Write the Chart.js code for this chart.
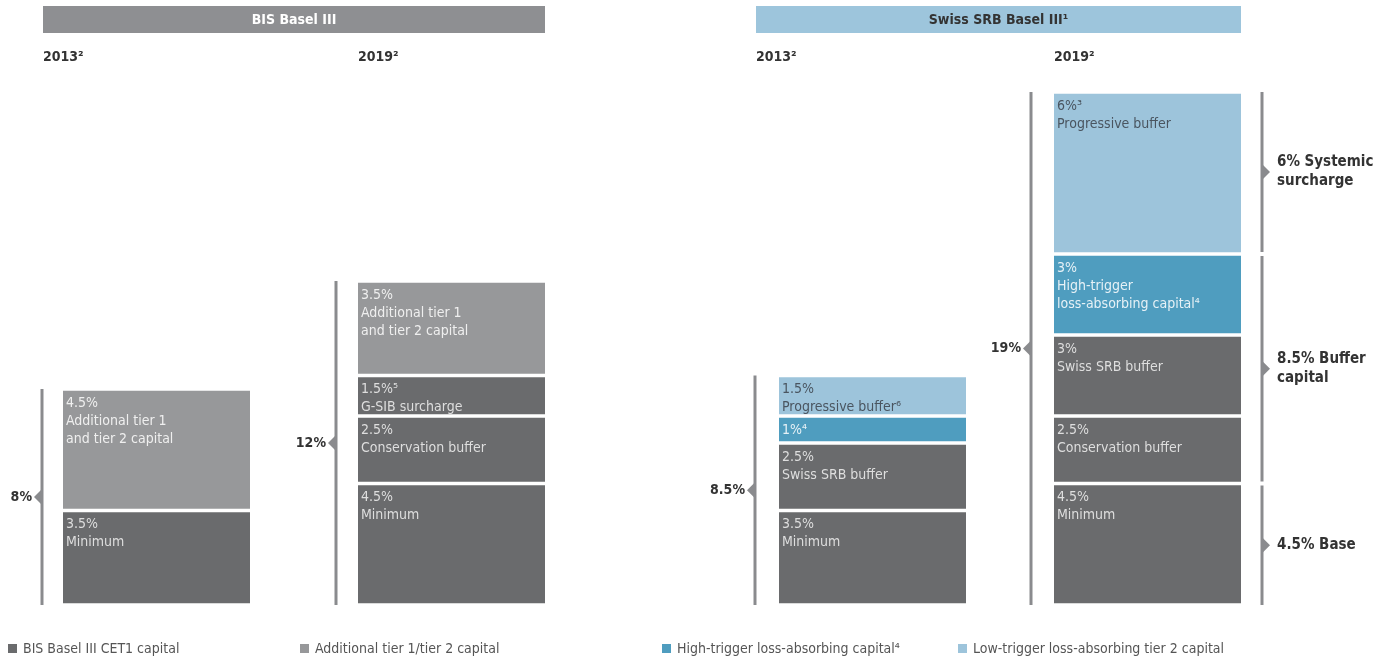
<!DOCTYPE html>
<html>
<head>
<meta charset="utf-8">
<script src="https://cdn.jsdelivr.net/npm/chart.js@4"></script>
<style>
  html, body { margin: 0; padding: 0; background: #fff; }
  #wrap { position: relative; width: 1383px; height: 661px; }
  #legend { position: absolute; left: 0; top: 640px; width: 1383px; height: 18px;
    font: 14px "Liberation Sans Narrow", "DejaVu Sans Condensed", sans-serif; color: #555; }
  #legend span.item { position: absolute; top: 0; white-space: nowrap; }
  #legend span.box { display: inline-block; width: 9px; height: 9px; margin-right: 6px; vertical-align: 0px; }
</style>
</head>
<body>
<div id="wrap">
  <canvas id="myChart" width="1383" height="661"></canvas>
  <div id="legend"></div>
</div>
<script>
// data
const categories = ["BIS Basel III 2013", "BIS Basel III 2019", "Swiss SRB 2013", "Swiss SRB 2019"];
const yearLabels = ["2013²", "2019²", "2013²", "2019²"];
const totalLabels = ["8%", "12%", "8.5%", "19%"];

const minimum = [3.5, 4.5, 3.5, 4.5];
const bufferA = [null, 2.5, 2.5, 2.5];
const bufferB = [null, 1.5, null, 3];
const additionalTier = [4.5, 3.5, null, null];
const highTrigger = [null, null, 1, 3];
const progressive = [null, null, 1.5, 6];

const minimumText = [["3.5%", "Minimum"], ["4.5%", "Minimum"], ["3.5%", "Minimum"], ["4.5%", "Minimum"]];
const bufferAText = [null, ["2.5%", "Conservation buffer"], ["2.5%", "Swiss SRB buffer"], ["2.5%", "Conservation buffer"]];
const bufferBText = [null, ["1.5%⁵", "G-SIB surcharge"], null, ["3%", "Swiss SRB buffer"]];
const additionalText = [["4.5%", "Additional tier 1", "and tier 2 capital"], ["3.5%", "Additional tier 1", "and tier 2 capital"], null, null];
const highTriggerText = [null, null, ["1%⁴"], ["3%", "High-trigger", "loss-absorbing capital⁴"]];
const progressiveText = [null, null, ["1.5%", "Progressive buffer⁶"], ["6%³", "Progressive buffer"]];

// right-hand brackets for the Swiss 2019 column
const swissGroups = [4.5, 8.5, 6];
const swissGroupText = [["4.5% Base"], ["8.5% Buffer", "capital"], ["6% Systemic", "surcharge"]];

const panelTitles = ["BIS Basel III", "Swiss SRB Basel III¹"];
const legendLabels = ["BIS Basel III CET1 capital", "Additional tier 1/tier 2 capital",
  "High-trigger loss-absorbing capital⁴", "Low-trigger loss-absorbing tier 2 capital"];

// layout
const barCenters = [156.5, 451.5, 872.5, 1147.5];
const bracketGap = [21, 22, 24, 23];
const barWidth = 187;
const FONT = '"Liberation Sans Narrow", "DejaVu Sans Condensed", sans-serif';

const DARK = "#6a6b6d", GREY = "#97989a", TEAL = "#4f9dbf", LIGHT = "#9dc4db";

function points(values) {
  return values.map((v, i) => ({ x: barCenters[i], y: v }));
}

function seg(label, values, texts, color, textColor) {
  return {
    label: label,
    data: points(values),
    texts: texts,
    textColor: textColor,
    backgroundColor: color,
    borderColor: "#ffffff",
    borderWidth: { top: 2, bottom: 2, left: 0, right: 0 },
    borderSkipped: false,
    barThickness: barWidth,
  };
}

const data = {
  datasets: [
    seg("Minimum", minimum, minimumText, DARK, "#dedede"),
    seg("Buffer", bufferA, bufferAText, DARK, "#dedede"),
    seg("Surcharge", bufferB, bufferBText, DARK, "#dedede"),
    seg("Additional tier 1/tier 2 capital", additionalTier, additionalText, GREY, "#efefef"),
    seg("High-trigger loss-absorbing capital", highTrigger, highTriggerText, TEAL, "#e6f1f6"),
    seg("Progressive buffer", progressive, progressiveText, LIGHT, "#4a5560"),
  ],
};

function leftPointer(ctx, x, y) {
  ctx.beginPath();
  ctx.moveTo(x, y - 7);
  ctx.lineTo(x - 7, y);
  ctx.lineTo(x, y + 7);
  ctx.closePath();
  ctx.fill();
}
function rightPointer(ctx, x, y) {
  ctx.beginPath();
  ctx.moveTo(x, y - 7);
  ctx.lineTo(x + 7, y);
  ctx.lineTo(x, y + 7);
  ctx.closePath();
  ctx.fill();
}

const decorations = {
  id: "decorations",
  afterDatasetsDraw(chart) {
    const ctx = chart.ctx;
    const xs = chart.scales.x, ys = chart.scales.y;
    ctx.save();

    // segment texts
    ctx.textBaseline = "middle";
    ctx.textAlign = "left";
    ctx.font = "14px " + FONT;
    chart.data.datasets.forEach((ds, di) => {
      const meta = chart.getDatasetMeta(di);
      meta.data.forEach((el, i) => {
        const t = ds.texts[i];
        if (!t || ds.data[i].y == null) return;
        ctx.fillStyle = ds.textColor;
        t.forEach((line, li) => {
          ctx.fillText(line, el.x - barWidth / 2 + 3, el.y + 14 + li * 18);
        });
      });
    });

    // panel headers
    const panels = [[0, 1], [2, 3]];
    panels.forEach((p, pi) => {
      const left = xs.getPixelForValue(barCenters[p[0]]) - barWidth / 2 - bracketGap[p[0]] + 1;
      const right = xs.getPixelForValue(barCenters[p[1]]) + barWidth / 2;
      ctx.fillStyle = pi === 0 ? "#8e8f92" : "#9dc5dc";
      ctx.fillRect(left, 6, right - left, 27);
      ctx.fillStyle = pi === 0 ? "#ffffff" : "#333333";
      ctx.font = "bold 14px " + FONT;
      ctx.textAlign = "center";
      ctx.fillText(panelTitles[pi], (left + right) / 2, 20);
    });

    // years + total brackets
    const lineColor = "#8a8b8e";
    categories.forEach((c, i) => {
      const barLeft = xs.getPixelForValue(barCenters[i]) - barWidth / 2;
      const bx = barLeft - bracketGap[i];
      let total = 0;
      chart.data.datasets.forEach(ds => { total += ds.data[i].y || 0; });
      const top = ys.getPixelForValue(total);
      const bottom = ys.getPixelForValue(0);
      ctx.fillStyle = "#333333";
      ctx.font = "bold 14px " + FONT;
      ctx.textAlign = "left";
      ctx.fillText(yearLabels[i], i % 2 === 0 ? bx + 1 : barLeft, 57);

      ctx.strokeStyle = lineColor;
      ctx.lineWidth = 3;
      ctx.beginPath();
      ctx.moveTo(bx, top);
      ctx.lineTo(bx, bottom);
      ctx.stroke();
      ctx.fillStyle = lineColor;
      const mid = (top + bottom) / 2;
      leftPointer(ctx, bx - 1, mid);
      ctx.fillStyle = "#333333";
      ctx.textAlign = "right";
      ctx.fillText(totalLabels[i], bx - 10, mid);
    });

    // right brackets for Swiss 2019
    const rx = xs.getPixelForValue(barCenters[3]) + barWidth / 2 + 21;
    let base = 0;
    swissGroups.forEach((g, gi) => {
      const y0 = ys.getPixelForValue(base) - (gi === 0 ? 0 : 2);
      const y1 = ys.getPixelForValue(base + g) + (gi === swissGroups.length - 1 ? 0 : 2);
      base += g;
      ctx.strokeStyle = lineColor;
      ctx.lineWidth = 3;
      ctx.beginPath();
      ctx.moveTo(rx, y0);
      ctx.lineTo(rx, y1);
      ctx.stroke();
      const mid = (y0 + y1) / 2;
      ctx.fillStyle = lineColor;
      rightPointer(ctx, rx + 1, mid);
      ctx.fillStyle = "#333333";
      ctx.textAlign = "left";
      ctx.font = "bold 15px " + FONT;
      const lines = swissGroupText[gi];
      lines.forEach((line, li) => {
        ctx.fillText(line, rx + 15, mid + (li - (lines.length - 1) / 2) * 19);
      });
    });

    ctx.restore();
  },
};

const config = {
  type: "bar",
  data: data,
  options: {
    responsive: false,
    animation: false,
    layout: { padding: { top: 65, bottom: 56, left: 0, right: 0 } },
    plugins: { legend: { display: false }, tooltip: { enabled: false } },
    scales: {
      x: { type: "linear", min: 0, max: 1383, offset: false, display: false, stacked: true },
      y: { min: 0, max: 20, display: false, stacked: true },
    },
  },
  plugins: [decorations],
};

const myChart = new Chart(document.getElementById("myChart").getContext("2d"), config);

// legend
const legendColors = [DARK, GREY, TEAL, LIGHT];
const legendX = [8, 300, 662, 958];
const legendEl = document.getElementById("legend");
legendLabels.forEach((l, i) => {
  const item = document.createElement("span");
  item.className = "item";
  item.style.left = legendX[i] + "px";
  item.innerHTML = '<span class="box" style="background:' + legendColors[i] + '"></span>' + l;
  legendEl.appendChild(item);
});
</script>
</body>
</html>
